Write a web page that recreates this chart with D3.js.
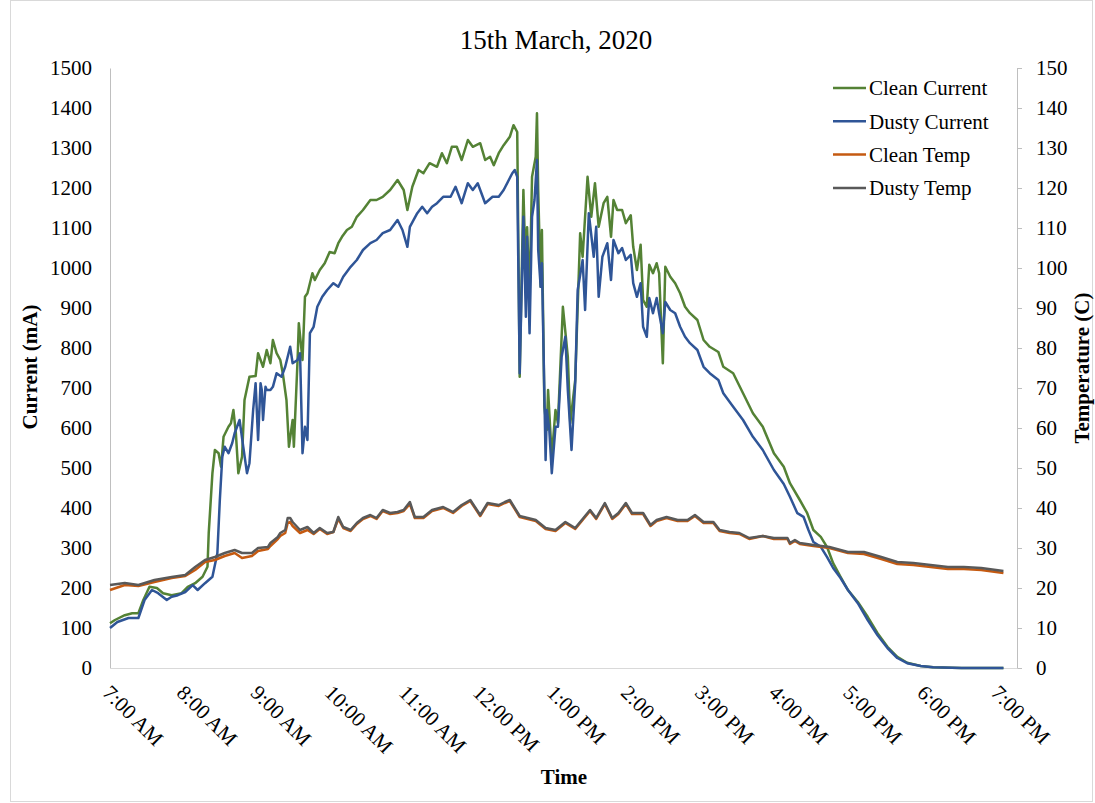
<!DOCTYPE html>
<html>
<head>
<meta charset="utf-8">
<script src="https://cdn.jsdelivr.net/npm/d3@7"></script>
<style>
  body { margin: 0; background: #fff; }
  svg text { font-family: "Liberation Serif", "Times New Roman", serif; fill: #000; }
</style>
</head>
<body>
<script>
/* DATA */
// [time, mA]
var cleanCurrent = [["07:00",112],["07:04",120],["07:12",132],["07:18",137],["07:23",137],["07:27",170],["07:32",203],["07:38",200],["07:43",187],["07:50",182],["07:58",187],["08:03",203],["08:09",212],["08:15",228],["08:19",253],["08:20",337],["08:23",487],["08:25",545],["08:28",537],["08:30",503],["08:32",578],["08:36",603],["08:38",612],["08:40",645],["08:42",587],["08:44",487],["08:47",528],["08:49",670],["08:53",728],["08:58",730],["09:00",787],["09:04",753],["09:07",795],["09:10",762],["09:12",820],["09:15",787],["09:18",770],["09:20",737],["09:23",670],["09:25",553],["09:28",620],["09:29",553],["09:32",770],["09:33",862],["09:36",770],["09:38",928],["09:40",937],["09:44",987],["09:46",970],["09:50",995],["09:54",1012],["09:58",1040],["10:02",1037],["10:05",1062],["10:08",1078],["10:12",1095],["10:16",1103],["10:20",1128],["10:25",1145],["10:31",1170],["10:36",1170],["10:41",1178],["10:47",1195],["10:53",1220],["10:58",1195],["11:01",1145],["11:05",1203],["11:10",1245],["11:14",1237],["11:19",1262],["11:25",1253],["11:29",1287],["11:33",1262],["11:37",1303],["11:41",1303],["11:45",1270],["11:50",1320],["11:54",1303],["12:00",1312],["12:04",1270],["12:08",1278],["12:11",1257],["12:15",1287],["12:19",1307],["12:24",1328],["12:27",1357],["12:30",1340],["12:32",728],["12:35",1195],["12:37",978],["12:38",1102],["12:40",928],["12:42",1228],["12:45",1278],["12:46",1387],["12:47",1195],["12:49",953],["12:50",1095],["12:52",653],["12:54",595],["12:55",695],["12:58",527],["13:01",645],["13:03",612],["13:07",903],["13:11",778],["13:13",612],["13:17",720],["13:21",1087],["13:23",1028],["13:27",1228],["13:30",1128],["13:33",1212],["13:36",1103],["13:40",1162],["13:43",1178],["13:46",1078],["13:48",1170],["13:51",1145],["13:55",1145],["13:58",1112],["14:02",1132],["14:04",1053],["14:07",995],["14:10",1058],["14:12",920],["14:15",903],["14:17",1008],["14:20",987],["14:23",1012],["14:25",987],["14:28",762],["14:30",1003],["14:34",978],["14:38",962],["14:42",937],["14:46",903],["14:50",887],["14:56",870],["15:01",820],["15:06",803],["15:13",790],["15:17",753],["15:25",737],["15:33",687],["15:41",637],["15:49",603],["15:58",537],["16:06",503],["16:11",462],["16:19",420],["16:25",387],["16:30",345],["16:36",328],["16:41",303],["16:46",262],["16:52",228],["16:58",195],["17:06",165],["17:14",128],["17:22",87],["17:30",53],["17:38",28],["17:46",13],["17:57",5],["18:07",2],["18:30",0],["19:04",0]];

var dustyCurrent = [["07:00",100],["07:06",115],["07:15",125],["07:23",125],["07:28",170],["07:34",195],["07:39",187],["07:46",170],["07:50",178],["07:55",182],["08:01",190],["08:07",207],["08:11",195],["08:17",212],["08:23",228],["08:27",287],["08:29",420],["08:31",528],["08:33",553],["08:36",537],["08:39",562],["08:41",587],["08:45",620],["08:48",553],["08:51",487],["08:53",512],["08:56",645],["08:58",712],["09:00",570],["09:02",712],["09:03",695],["09:04",620],["09:06",703],["09:07",695],["09:10",695],["09:12",703],["09:15",737],["09:19",728],["09:22",753],["09:26",803],["09:28",762],["09:32",770],["09:34",787],["09:36",537],["09:38",603],["09:40",570],["09:42",837],["09:45",853],["09:48",903],["09:52",928],["09:56",945],["10:01",962],["10:05",953],["10:09",978],["10:15",1003],["10:20",1020],["10:25",1045],["10:31",1062],["10:36",1070],["10:41",1087],["10:47",1095],["10:53",1120],["10:57",1095],["11:01",1053],["11:03",1103],["11:09",1137],["11:13",1153],["11:17",1137],["11:21",1153],["11:25",1162],["11:30",1178],["11:36",1178],["11:40",1203],["11:45",1162],["11:50",1212],["11:54",1195],["11:58",1212],["12:04",1162],["12:10",1178],["12:15",1178],["12:19",1195],["12:26",1237],["12:28",1245],["12:30",1228],["12:32",737],["12:35",1128],["12:37",878],["12:38",1078],["12:40",837],["12:42",1128],["12:44",1170],["12:46",1270],["12:47",1045],["12:49",953],["12:50",1012],["12:53",520],["12:54",645],["12:56",595],["12:58",487],["13:01",603],["13:03",603],["13:06",778],["13:09",828],["13:11",695],["13:14",545],["13:17",712],["13:19",945],["13:23",1020],["13:25",895],["13:28",1137],["13:32",1028],["13:34",1103],["13:36",928],["13:39",1028],["13:43",1062],["13:46",970],["13:48",1070],["13:52",1037],["13:55",1050],["13:58",1020],["14:02",1033],["14:04",962],["14:07",928],["14:10",962],["14:12",853],["14:15",828],["14:17",925],["14:20",887],["14:23",925],["14:25",887],["14:28",837],["14:30",915],["14:34",895],["14:38",887],["14:42",853],["14:46",828],["14:50",812],["14:56",795],["15:01",753],["15:06",737],["15:13",720],["15:17",687],["15:25",653],["15:33",620],["15:41",578],["15:49",545],["15:58",495],["16:06",460],["16:11",428],["16:17",387],["16:22",378],["16:26",345],["16:30",315],["16:36",303],["16:41",278],["16:46",250],["16:52",225],["16:58",195],["17:06",162],["17:14",120],["17:22",82],["17:30",50],["17:38",25],["17:46",12],["17:57",5],["18:07",2],["18:30",0],["19:04",0]];

// [time, deg C]
var cleanTemp = [["07:00",19.5],["07:12",20.75],["07:23",20.5],["07:36",21.5],["07:50",22.5],["08:01",23],["08:09",24.5],["08:17",26.5],["08:25",27],["08:33",28],["08:41",28.75],["08:47",27.5],["08:55",28],["09:00",29.25],["09:08",29.75],["09:10",30.5],["09:16",32.25],["09:18",33],["09:22",33.75],["09:24",36.25],["09:26",36.5],["09:28",35.5],["09:34",33.75],["09:40",34.5],["09:45",33.5],["09:50",34.75],["09:56",33.5],["10:01",34],["10:05",37.25],["10:09",35],["10:15",34.25],["10:20",36],["10:25",37.25],["10:31",38],["10:36",37.25],["10:41",39.25],["10:47",38.5],["10:53",38.75],["10:58",39.25],["11:03",41],["11:07",37.5],["11:14",37.5],["11:21",39.25],["11:30",40],["11:38",38.75],["11:45",40.5],["11:52",41.75],["12:00",38],["12:06",41],["12:15",40.5],["12:20",41.25],["12:24",41.75],["12:32",37.75],["12:45",36.75],["12:53",34.75],["13:01",34.25],["13:09",36.25],["13:17",34.75],["13:25",37.75],["13:29",39.25],["13:34",37.25],["13:41",41],["13:47",37.25],["13:52",38.5],["13:58",41],["14:03",38.5],["14:12",38.5],["14:18",35.5],["14:23",36.75],["14:31",37.5],["14:40",36.75],["14:48",36.75],["14:54",38],["15:01",36.25],["15:09",36.25],["15:14",34.25],["15:22",33.75],["15:30",33.5],["15:38",32.25],["15:49",33],["15:58",32.25],["16:09",32.25],["16:11",31],["16:15",31.75],["16:19",31],["16:30",30.5],["16:43",30],["16:58",28.75],["17:11",28.5],["17:25",27.25],["17:38",26],["17:51",25.75],["18:05",25.25],["18:19",24.75],["18:32",24.75],["18:46",24.5],["19:04",23.75]];

var dustyTemp = [["07:00",20.75],["07:12",21.25],["07:23",20.75],["07:36",22],["07:50",22.75],["08:01",23.25],["08:09",25.25],["08:17",27],["08:25",27.75],["08:33",28.75],["08:41",29.5],["08:47",28.75],["08:55",28.75],["09:00",30],["09:08",30.25],["09:10",31.25],["09:16",32.75],["09:18",33.75],["09:22",34.5],["09:24",37.5],["09:26",37.5],["09:28",36.5],["09:34",34.5],["09:40",35.25],["09:45",33.75],["09:50",35],["09:56",33.75],["10:01",34],["10:05",37.75],["10:09",35.25],["10:15",34.5],["10:20",36.25],["10:25",37.5],["10:31",38.25],["10:36",37.5],["10:41",39.5],["10:47",38.75],["10:53",39],["10:58",39.5],["11:03",41.5],["11:07",37.75],["11:14",37.75],["11:21",39.5],["11:30",40.25],["11:38",39],["11:45",40.75],["11:52",42],["12:00",38.25],["12:06",41.25],["12:15",40.75],["12:20",41.5],["12:24",42],["12:32",38],["12:45",37],["12:53",35],["13:01",34.5],["13:09",36.5],["13:17",35],["13:25",38],["13:29",39.5],["13:34",37.5],["13:41",41.25],["13:47",37.5],["13:52",38.75],["13:58",41.25],["14:03",38.75],["14:12",38.75],["14:18",35.75],["14:23",37],["14:31",37.75],["14:40",37],["14:48",37],["14:54",38.25],["15:01",36.5],["15:09",36.5],["15:14",34.5],["15:22",34],["15:30",33.75],["15:38",32.5],["15:49",33],["15:58",32.5],["16:09",32.5],["16:11",31.25],["16:15",32],["16:19",31.25],["16:30",30.75],["16:43",30.25],["16:58",29],["17:11",29],["17:25",27.75],["17:38",26.5],["17:51",26.25],["18:05",25.75],["18:19",25.25],["18:32",25.25],["18:46",25],["19:04",24.25]];

var hourTicks = ["07:00","08:00","09:00","10:00","11:00","12:00","13:00","14:00","15:00","16:00","17:00","18:00","19:00"];
var currentTicks = [0,100,200,300,400,500,600,700,800,900,1000,1100,1200,1300,1400,1500];
var tempTicks = [0,10,20,30,40,50,60,70,80,90,100,110,120,130,140,150];

var seriesNames = ["Clean Current", "Dusty Current", "Clean Temp", "Dusty Temp"];
var seriesColors = ["#548235", "#2f5597", "#c55a11", "#595959"];

/* SIZES */
var width = 1095, height = 803;
var plot = {left: 110, right: 1017, top: 68, bottom: 668};

var parseTime = d3.timeParse("%H:%M");
var fmt = d3.timeFormat("%-I:%M %p");

// scales
var x = d3.scaleTime()
  .domain([parseTime("07:00"), parseTime("19:15")])
  .range([plot.left, plot.right]);
var yLeft = d3.scaleLinear().domain([0, 1500]).range([plot.bottom, plot.top]);
var yRight = d3.scaleLinear().domain([0, 150]).range([plot.bottom, plot.top]);

var svg = d3.select("body").append("svg")
  .attr("width", width)
  .attr("height", height);

// chart border
svg.append("rect")
  .attr("x", 10.5).attr("y", 0.5)
  .attr("width", 1082).attr("height", 801)
  .attr("fill", "none").attr("stroke", "#d9d9d9");

// title
svg.append("text")
  .attr("x", 556).attr("y", 49)
  .attr("text-anchor", "middle")
  .style("font-size", "27px")
  .text("15th March, 2020");

// left axis
var gl = svg.append("g")
  .attr("transform", "translate(" + plot.left + ",0)")
  .call(d3.axisLeft(yLeft).tickValues(currentTicks).tickSize(0).tickPadding(18).tickFormat(d3.format("d")));
gl.select(".domain").attr("stroke", "#bfbfbf");
gl.selectAll("text").style("font-size", "21px").style("font-family", "Liberation Serif");

// right axis
var gr = svg.append("g")
  .attr("transform", "translate(" + plot.right + ",0)")
  .call(d3.axisRight(yRight).tickValues(tempTicks).tickSize(5).tickPadding(14).tickFormat(d3.format("d")));
gr.select(".domain").attr("stroke", "#bfbfbf");
gr.selectAll("line").attr("stroke", "#bfbfbf");
gr.selectAll("text").style("font-size", "21px").style("font-family", "Liberation Serif");

// bottom axis
var gb = svg.append("g")
  .attr("transform", "translate(0," + plot.bottom + ")")
  .call(d3.axisBottom(x).tickValues(hourTicks.map(parseTime)).tickSize(0).tickFormat(fmt));
gb.select(".domain").attr("stroke", "#d9d9d9");
gb.selectAll("text")
  .style("font-size", "21px")
  .style("font-family", "Liberation Serif")
  .attr("text-anchor", "start")
  .attr("y", 0).attr("dy", 0)
  .attr("transform", "translate(-9,26) rotate(45)");

// axis titles
svg.append("text")
  .attr("transform", "translate(37,367) rotate(-90)")
  .attr("text-anchor", "middle")
  .style("font-size", "21px").style("font-weight", "bold")
  .text("Current  (mA)");

svg.append("text")
  .attr("transform", "translate(1089,368) rotate(-90)")
  .attr("text-anchor", "middle")
  .style("font-size", "21px").style("font-weight", "bold")
  .text("Temperature  (C)");

svg.append("text")
  .attr("x", 564).attr("y", 784)
  .attr("text-anchor", "middle")
  .style("font-size", "21px").style("font-weight", "bold")
  .text("Time");

// lines
var currentLine = d3.line()
  .x(function(d) { return x(parseTime(d[0])); })
  .y(function(d) { return yLeft(d[1]); });
var tempLine = d3.line()
  .x(function(d) { return x(parseTime(d[0])); })
  .y(function(d) { return yRight(d[1]); });

var allSeries = [
  {data: cleanCurrent, line: currentLine},
  {data: dustyCurrent, line: currentLine},
  {data: cleanTemp, line: tempLine},
  {data: dustyTemp, line: tempLine}
];

allSeries.forEach(function(s, i) {
  svg.append("path")
    .datum(s.data)
    .attr("d", s.line)
    .attr("fill", "none")
    .attr("stroke", seriesColors[i])
    .attr("stroke-width", 2.5)
    .attr("stroke-linejoin", "round");
});

// legend
var legend = svg.append("g").attr("transform", "translate(833,88)");
seriesNames.forEach(function(name, i) {
  var row = legend.append("g").attr("transform", "translate(0," + (i * 33.3) + ")");
  row.append("line")
    .attr("x1", 0).attr("x2", 33)
    .attr("stroke", seriesColors[i]).attr("stroke-width", 2.5);
  row.append("text")
    .attr("x", 36).attr("dy", "0.35em")
    .style("font-size", "21px")
    .text(name);
});
</script>
</body>
</html>
